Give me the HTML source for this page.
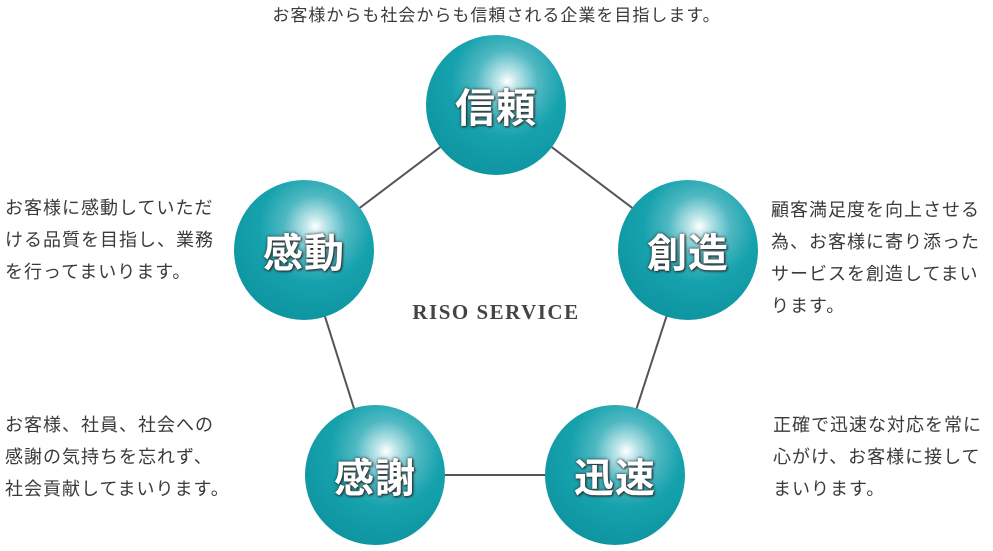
<!DOCTYPE html>
<html><head><meta charset="utf-8"><style>
body{margin:0;width:993px;height:551px;background:#fff;position:relative;overflow:hidden;font-family:"Liberation Sans","Noto Sans CJK JP",sans-serif;color:#3a3a3a}
.t{position:absolute;font-size:18px;line-height:32px;letter-spacing:1px;white-space:nowrap}
.c{position:absolute;width:140px;height:140px;border-radius:50%;background:radial-gradient(circle at 58% 33%,#ffffff 0%,#bfe6ea 8%,#4fb8c2 25%,#16a2ad 45%,#0e96a1 75%,#0b8792 100%);display:flex;align-items:center;justify-content:center;color:#fff;font-weight:bold;font-size:40px;text-shadow:0 0 3px #333,1px 1px 2px #222;letter-spacing:1px}
</style></head><body>
<svg width="993" height="551" style="position:absolute;left:0;top:0">
<polygon points="496,105 688,250 615,475 375,475 304,250" fill="none" stroke="#555" stroke-width="2"/>
</svg>
<div class="t" style="left:0;width:993px;text-align:center;top:0;font-size:17px">お客様からも社会からも信頼される企業を目指します。</div>
<div class="t" style="left:5px;top:192px">お客様に感動していただ<br>ける品質を目指し、業務<br>を行ってまいります。</div>
<div class="t" style="left:771px;top:194px">顧客満足度を向上させる<br>為、お客様に寄り添った<br>サービスを創造してまい<br>ります。</div>
<div class="t" style="left:5px;top:409px">お客様、社員、社会への<br>感謝の気持ちを忘れず、<br>社会貢献してまいります。</div>
<div class="t" style="left:773px;top:409px">正確で迅速な対応を常に<br>心がけ、お客様に接して<br>まいります。</div>
<div style="position:absolute;left:396px;width:200px;text-align:center;top:300px;font-family:'Liberation Serif',serif;font-weight:bold;font-size:21px;letter-spacing:1.5px;color:#444">RISO SERVICE</div>
<div class="c" style="left:426px;top:35px">信頼</div>
<div class="c" style="left:234px;top:180px">感動</div>
<div class="c" style="left:618px;top:180px">創造</div>
<div class="c" style="left:305px;top:405px">感謝</div>
<div class="c" style="left:545px;top:405px">迅速</div>
</body></html>
